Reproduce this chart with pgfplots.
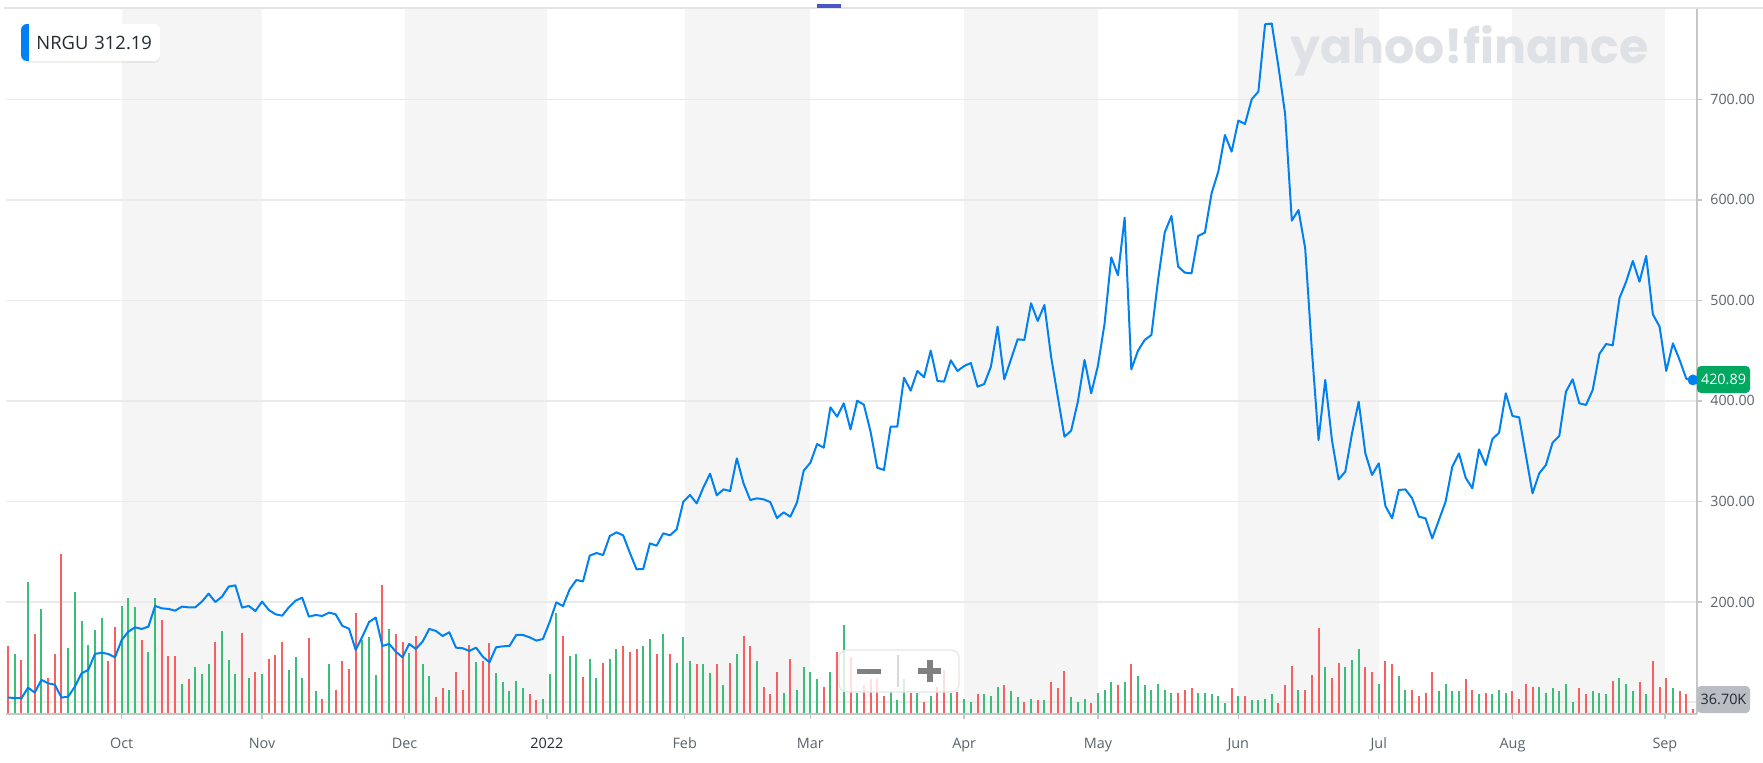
\documentclass[border=0pt]{standalone}
\usepackage{fontspec}
\setmainfont{Open Sans}
\newfontfamily\logofont{Poppins}
\usepackage{pgfplots}
\usepackage{pgfplotstable}
\pgfplotsset{compat=1.18}
\usetikzlibrary{shadows}
\definecolor{linecol}{RGB}{0,129,242}
\definecolor{upcol}{RGB}{58,190,122}
\definecolor{downcol}{RGB}{246,96,96}
\definecolor{bandc}{RGB}{245,245,245}
\definecolor{gridc}{RGB}{234,234,234}
\definecolor{axisc}{RGB}{196,198,200}
\definecolor{ticktext}{RGB}{91,99,106}
\definecolor{darktext}{RGB}{35,42,49}
\definecolor{logoc}{RGB}{222,225,229}
\definecolor{pricebox}{RGB}{0,168,96}
\definecolor{volbox}{RGB}{186,189,196}
\definecolor{indigo}{RGB}{74,86,200}
\definecolor{topline}{RGB}{226,228,231}

\pgfplotstableread{
i price vol dir
0 105.0 209 0
1 104.5 185 1
2 104.2 166 0
3 114.8 405 1
4 109.9 245 0
5 122.5 322 1
6 119.1 111 0
7 117.8 185 0
8 104.9 489 0
9 105.9 203 1
10 115.8 373 1
11 129.1 286 1
12 132.4 212 1
13 148.3 258 1
14 149.6 295 1
15 148.3 162 0
16 145.0 267 0
17 162.2 330 1
18 170.5 354 1
19 174.8 327 1
20 173.2 226 0
21 175.5 190 1
22 196.1 354 1
23 193.7 287 0
24 193.1 177 0
25 191.4 177 0
26 195.4 93 1
27 194.7 107 0
28 194.7 145 1
29 200.4 121 1
30 208.3 153 1
31 200.0 221 0
32 205.3 254 1
33 215.3 166 1
34 216.6 121 1
35 194.4 249 0
36 196.1 111 1
37 191.1 129 0
38 200.4 121 1
39 192.1 167 0
40 187.8 181 0
41 186.4 221 0
42 194.7 135 1
43 201.3 175 1
44 204.3 111 1
45 185.4 232 0
46 187.1 70 1
47 186.1 46 0
48 189.4 153 1
49 187.8 74 0
50 176.2 162 0
51 173.5 139 0
52 152.3 309 0
53 165.6 226 1
54 180.1 236 1
55 184.5 120 1
56 156.3 396 0
57 158.3 259 1
58 150.6 245 0
59 145.0 221 0
60 158.3 186 1
61 153.3 240 0
62 160.6 153 1
63 173.2 117 1
64 171.2 52 0
65 166.2 80 0
66 169.9 74 1
67 154.6 129 0
68 154.0 74 0
69 151.3 212 0
70 154.6 158 1
71 145.7 162 0
72 140.0 217 0
73 155.0 125 1
74 155.9 98 1
75 156.3 70 1
76 167.2 102 1
77 167.2 80 1
78 164.9 61 0
79 161.6 43 0
80 163.2 47 1
81 180.0 121 1
82 199.6 308 1
83 196.0 240 0
84 212.6 177 1
85 221.9 185 1
86 220.5 112 0
87 246.1 167 1
88 248.7 111 1
89 246.7 157 0
90 265.6 167 1
91 269.3 199 1
92 266.3 208 0
93 249.0 190 0
94 232.5 199 0
95 232.8 208 1
96 258.3 230 1
97 256.0 185 0
98 268.3 244 1
99 266.3 185 0
100 272.3 157 1
101 299.8 236 1
102 306.4 162 1
103 298.1 153 0
104 314.0 153 1
105 327.6 125 1
106 306.1 153 0
107 312.0 89 1
108 310.4 157 0
109 342.9 185 1
110 318.0 240 0
111 301.4 208 0
112 303.1 162 1
113 302.1 84 0
114 299.4 61 0
115 283.5 129 0
116 289.2 65 1
117 284.8 167 0
118 299.1 74 1
119 330.6 144 1
120 338.6 129 1
121 357.1 107 1
122 353.5 84 0
123 393.6 129 1
124 384.3 190 0
125 397.6 272 1
126 371.7 175 0
127 400.2 63 1
128 396.3 89 0
129 369.4 106 0
130 333.6 106 0
131 331.3 56 0
132 374.4 71 1
133 374.4 42 1
134 423.1 106 1
135 410.2 63 0
136 429.8 63 1
137 423.5 38 0
138 450.0 56 1
139 419.8 84 0
140 419.2 135 0
141 440.4 63 1
142 429.8 68 0
143 434.7 46 1
144 437.7 38 1
145 414.2 60 0
146 416.8 60 1
147 434.1 56 1
148 473.9 84 1
149 421.5 89 0
150 441.4 70 1
151 461.3 52 1
152 460.6 38 0
153 497.1 47 1
154 479.5 42 0
155 495.4 42 1
156 444.0 98 0
157 404.0 80 0
158 364.4 131 0
159 370.4 52 1
160 399.2 38 1
161 440.7 47 1
162 407.6 33 0
163 435.0 65 1
164 477.0 74 1
165 542.8 98 1
166 525.0 89 0
167 582.3 98 1
168 431.4 153 0
169 450.0 116 1
170 460.6 89 1
171 465.6 74 1
172 520.3 93 1
173 567.7 74 1
174 583.9 65 1
175 533.6 65 0
176 527.6 74 0
177 526.9 80 0
178 564.1 65 1
179 567.4 65 1
180 606.5 60 1
181 628.0 56 1
182 664.5 34 1
183 647.9 80 0
184 678.8 56 1
185 675.5 56 0
186 700.0 42 1
187 707.6 42 1
188 774.6 47 1
189 775.3 60 1
190 732.5 33 0
191 685.4 89 0
192 579.3 148 0
193 589.9 74 1
194 551.8 74 0
195 450.6 120 0
196 361.1 263 0
197 420.8 144 1
198 361.1 111 0
199 322.0 157 0
200 329.6 144 1
201 367.7 166 1
202 399.2 199 1
203 347.8 144 0
204 326.3 129 0
205 337.9 93 1
206 295.5 162 0
207 283.2 153 0
208 311.4 116 1
209 312.0 74 1
210 303.1 74 0
211 284.9 56 0
212 283.2 65 0
213 263.3 129 0
214 281.5 70 1
215 299.8 93 1
216 334.6 70 1
217 347.8 70 1
218 323.6 107 0
219 313.0 74 0
220 351.8 61 1
221 336.2 65 0
222 362.1 61 1
223 368.4 74 1
224 407.6 65 1
225 385.0 70 0
226 383.7 47 0
227 346.2 93 0
228 308.1 84 0
229 328.0 84 1
230 336.2 65 1
231 358.5 80 1
232 365.1 70 1
233 409.2 93 1
234 421.5 38 1
235 397.6 80 0
236 396.0 61 0
237 410.9 70 1
238 446.7 65 1
239 456.6 61 1
240 455.3 102 0
241 502.1 111 1
242 518.6 93 1
243 539.2 70 1
244 518.6 98 0
245 544.2 61 1
246 486.1 161 0
247 473.9 84 0
248 429.8 111 0
249 457.3 80 1
250 440.7 70 0
251 422.0 61 0
252 420.89 14 0
}\datatable

\pgfplotsset{
  commonaxis/.style={at={(3pt,24pt)}, anchor=south west, scale only axis,
    width=845.5pt, height=353pt, xmin=-0.3, xmax=252.6},
  bareaxis/.style={axis lines=none, xtick=\empty, ytick=\empty},
}

\begin{document}
\begin{tikzpicture}[x=0.5pt,y=0.5pt]
\fill[white] (0,0) rectangle (1763,762);

% background: month bands and grid lines
\begin{axis}[commonaxis, bareaxis, ymin=88.6, ymax=790.8]
  \fill[bandc] (axis cs:17,88.6) rectangle (axis cs:38,790.8);
  \fill[bandc] (axis cs:59.3,88.6) rectangle (axis cs:80.6,790.8);
  \fill[bandc] (axis cs:101.2,88.6) rectangle (axis cs:120,790.8);
  \fill[bandc] (axis cs:143,88.6) rectangle (axis cs:163,790.8);
  \fill[bandc] (axis cs:184,88.6) rectangle (axis cs:205,790.8);
  \fill[bandc] (axis cs:225,88.6) rectangle (axis cs:247.8,790.8);
  \foreach \g in {200,300,400,500,600,700}{
    \edef\tmp{\noexpand\draw[gridc, line width=0.75pt] (axis cs:-0.3,\g) -- (axis cs:252.6,\g);}\tmp
  }
\end{axis}

% volume axis
\begin{axis}[commonaxis, bareaxis, ymin=0, ymax=2160]
  \draw[gridc, line width=0.75pt] (axis cs:-0.3,36.7) -- (axis cs:252.6,36.7);
  \addplot[ycomb, draw=upcol, line width=1pt, no marks,
    restrict expr to domain={\thisrow{dir}}{0.5:1.5}] table[x=i, y=vol] {\datatable};
  \addplot[ycomb, draw=downcol, line width=1pt, no marks,
    restrict expr to domain={\thisrow{dir}}{-0.5:0.5}] table[x=i, y=vol] {\datatable};
\end{axis}

% price axis
\begin{axis}[commonaxis, ymin=88.6, ymax=790.8,
  clip=false,
  axis x line*=bottom, axis y line*=right,
  axis line style={draw=axisc, line width=1pt},
  xtick={17,38,59.3,80.6,101.2,120,143,163,184,205,225,247.8},
  xticklabels={Oct,Nov,Dec,\textcolor{darktext}{2022},Feb,Mar,Apr,May,Jun,Jul,Aug,Sep},
  ytick={200,300,400,500,600,700},
  yticklabels={200.00,300.00,400.00,500.00,600.00,700.00},
  tick align=outside, major tick length=2.5pt,
  tick style={draw=axisc, line width=0.75pt},
  xticklabel style={font=\fontsize{7.2}{8}\selectfont, text=ticktext, anchor=base, inner sep=0pt, yshift=-14.6pt},
  yticklabel style={font=\fontsize{7.1}{8}\selectfont, text=ticktext, anchor=west, inner sep=0pt, xshift=4pt},
]
  \addplot[linecol, line width=1pt, line join=round, no marks] table[x=i, y=price] {\datatable};
  \addplot[only marks, mark=*, mark size=2.5pt, mark options={fill=linecol, draw=linecol}] coordinates {(252,420.89)};
\end{axis}

% top border and small marker
\draw[topline, line width=1pt] (4,754) -- (1763,754);
\fill[indigo] (817,758) rectangle (841,754);

% watermark
\node[anchor=base west, inner sep=0pt, text=logoc, font=\logofont\bfseries\fontsize{23.7}{24}\selectfont] at (1290,698) {yahoo!finance};

% NRGU label box
\fill[white, rounded corners=3pt, drop shadow={opacity=0.12, shadow xshift=0pt, shadow yshift=-1pt}] (21,701) rectangle (160,738);
\begin{scope}
  \clip[rounded corners=3pt] (21,701) rectangle (160,738);
  \fill[linecol] (21,701) rectangle (29,738);
\end{scope}
\node[anchor=west, inner sep=0pt, text=darktext, font=\fontsize{9.2}{10}\selectfont] at (36,719.5) {NRGU\hspace{3pt}312.19};

% zoom control
\fill[white, opacity=0.8, rounded corners=4pt] (839,70) rectangle (959,112);
\draw[black!10, line width=0.6pt, rounded corners=4pt] (839,70) rectangle (959,112);
\draw[black!15, line width=1pt] (898,75) -- (898,107);
\fill[black!50] (857,88.5) rectangle (881,93.5);
\fill[black!50] (918,88) rectangle (941,94);
\fill[black!50] (926.5,80) rectangle (932.5,102);

% price label
\fill[pricebox, rounded corners=2pt] (1697,369) rectangle (1750,396);
\node[text=white, font=\fontsize{7.2}{8}\selectfont, inner sep=0pt] at (1723.5,382.5) {420.89};

% volume label
\fill[volbox, rounded corners=2pt] (1697,49) rectangle (1750,76);
\node[text=darktext, font=\fontsize{7.2}{8}\selectfont, inner sep=0pt] at (1723.5,62.5) {36.70K};

\pgfresetboundingbox
\useasboundingbox (0,0) rectangle (1763,762);
\end{tikzpicture}
\end{document}
